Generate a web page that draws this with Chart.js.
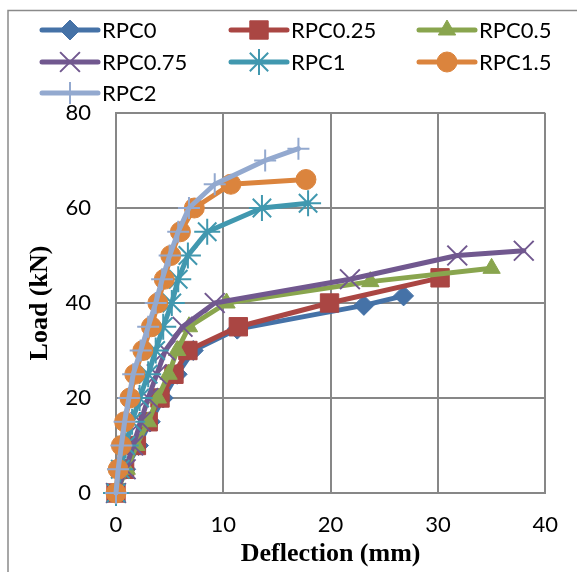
<!DOCTYPE html>
<html>
<head>
<meta charset="utf-8">
<script src="https://cdn.jsdelivr.net/npm/chart.js@4.4.1/dist/chart.umd.min.js"></script>
<style>
    html, body { margin: 0; padding: 0; background: #fff; }
    #wrap { width: 577px; height: 572px; }
</style>
</head>
<body>
<div id="wrap"><canvas id="load-chart" width="577" height="572"></canvas></div>
<script>
// series names
const NAMES = ["RPC0", "RPC0.25", "RPC0.5", "RPC0.75", "RPC1", "RPC1.5", "RPC2"];

// deflection (mm) / load (kN)
const RPC0_DEF    = [0, 0.9, 2.1, 3.2, 4.4, 5.7, 7.2, 11.3, 23.1, 26.8];
const RPC0_LOAD   = [0, 5, 10, 15, 20, 25, 30, 34.5, 39.5, 41.5];
const RPC025_DEF  = [0, 0.8, 1.9, 3.0, 4.1, 5.4, 6.7, 11.4, 19.9, 30.2];
const RPC025_LOAD = [0, 5, 10, 15, 20, 25, 30, 35, 40, 45.3];
const RPC05_DEF   = [0, 1.0, 1.9, 3.0, 3.9, 4.9, 5.7, 6.8, 10.3, 23.7, 35.0];
const RPC05_LOAD  = [0, 5, 10, 15, 20, 25, 30, 35, 40, 44.5, 47.3];
const RPC075_DEF  = [0, 0.9, 1.6, 2.3, 3.0, 3.8, 4.6, 6.2, 9.2, 21.8, 31.8, 38.0];
const RPC075_LOAD = [0, 5, 10, 15, 20, 25, 30, 35, 40, 45, 50, 51];
const RPC1_DEF    = [0, 0.4, 0.9, 1.5, 2.2, 3.0, 3.7, 4.4, 5.2, 5.8, 6.7, 8.5, 13.6, 17.9];
const RPC1_LOAD   = [0, 5, 10, 15, 20, 25, 30, 35, 40, 45, 50, 55, 60, 61];
const RPC15_DEF   = [0, 0.2, 0.5, 0.8, 1.3, 1.75, 2.5, 3.3, 3.9, 4.5, 5.1, 6.0, 7.3, 10.7, 17.7];
const RPC15_LOAD  = [0, 5, 10, 15, 20, 25, 30, 35, 40, 45, 50, 55, 60, 65, 66];
const RPC2_DEF    = [0, 0.2, 0.5, 0.8, 1.2, 1.6, 2.3, 3.0, 3.7, 4.3, 5.0, 5.8, 6.8, 9.2, 13.9, 17.0];
const RPC2_LOAD   = [0, 5, 10, 15, 20, 25, 30, 35, 40, 45, 50, 55, 60, 65, 70, 72.5];

const X_TICKS = [0, 10, 20, 30, 40];
const Y_TICKS = [0, 20, 40, 60, 80];

const DEFS  = [RPC0_DEF, RPC025_DEF, RPC05_DEF, RPC075_DEF, RPC1_DEF, RPC15_DEF, RPC2_DEF];
const LOADS = [RPC0_LOAD, RPC025_LOAD, RPC05_LOAD, RPC075_LOAD, RPC1_LOAD, RPC15_LOAD, RPC2_LOAD];

// styles
const COLORS = ["#4572A7", "#AA4643", "#89A54E", "#71588F", "#4198AF", "#DB843D", "#93A9CF"];
const MARKERS = ["rectRot", "rect", "triangle", "crossRot", "star", "circle", "cross"];
const RADIUS  = [10, 13, 10, 14, 13, 10, 11];
const MBORDER = [1, 1, 1, 2, 2, 1, 2];

const LEGEND_X = [42, 231, 419];
const LEGEND_Y = [30, 62, 93];
const FONT = "Lato";

// 凡例と外枠
const legendPlugin = {
    id: 'excelLegend',
    afterDraw(chart) {
        const ctx = chart.ctx;
        ctx.save();
        ctx.strokeStyle = "#8a8a8a";
        ctx.lineWidth = 1.5;
        ctx.beginPath();
        ctx.moveTo(8, 572);
        ctx.lineTo(8, 10.5);
        ctx.lineTo(577, 10.5);
        ctx.stroke();

        chart.data.datasets.forEach((ds, i) => {
            const x0 = LEGEND_X[i % 3];
            const y  = LEGEND_Y[Math.floor(i / 3)];
            ctx.strokeStyle = ds.borderColor;
            ctx.fillStyle = ds.borderColor;
            ctx.lineWidth = 5;
            ctx.lineCap = 'round';
            ctx.beginPath();
            ctx.moveTo(x0, y);
            ctx.lineTo(x0 + 56, y);
            ctx.stroke();
            ctx.lineCap = 'butt';
            ctx.lineWidth = ds.pointBorderWidth;
            Chart.helpers.drawPoint(ctx, {
                pointStyle: ds.pointStyle,
                radius: ds.pointRadius,
                rotation: 0,
                borderWidth: ds.pointBorderWidth
            }, x0 + 28, y);
            ctx.fillStyle = "#000";
            ctx.font = `22px ${FONT}`;
            ctx.textBaseline = 'middle';
            ctx.textAlign = 'left';
            ctx.fillText(ds.label, x0 + 60, y + 1);
        });
        ctx.restore();
    }
};

const datasets = NAMES.map((name, i) => ({
    label: name,
    data: DEFS[i].map((d, j) => ({ x: d, y: LOADS[i][j] })),
    showLine: true,
    borderColor: COLORS[i],
    backgroundColor: COLORS[i],
    borderWidth: 5,
    borderCapStyle: 'round',
    borderJoinStyle: 'round',
    pointStyle: MARKERS[i],
    pointRadius: RADIUS[i],
    pointHoverRadius: RADIUS[i],
    pointBorderWidth: MBORDER[i],
    pointBorderColor: COLORS[i],
    pointBackgroundColor: COLORS[i],
    clip: false,
    order: 10 - i,
}));

const config = {
    type: 'scatter',
    data: { datasets: datasets },
    options: {
        responsive: false,
        animation: false,
        layout: { padding: { left: 0, top: 113, right: 27, bottom: 0 } },
        plugins: {
            legend: { display: false },
            tooltip: { enabled: false },
        },
        scales: {
            x: {
                type: 'linear',
                min: 0,
                max: 40,
                afterBuildTicks: (s) => { s.ticks = X_TICKS.map(v => ({ value: v })); },
                afterFit: (s) => { s.height = 79; },
                grid: { color: "#878787", lineWidth: 2, drawTicks: false },
                border: { color: "#878787", width: 2 },
                ticks: { color: "#000", font: { family: FONT, size: 22 }, padding: 19 },
                title: {
                    display: true,
                    text: "Deflection (mm)",
                    color: "#000",
                    font: { family: "Liberation Serif", size: 26, weight: 'bold' },
                    padding: { top: 0, bottom: 2 },
                },
            },
            y: {
                type: 'linear',
                min: 0,
                max: 80,
                afterBuildTicks: (s) => { s.ticks = Y_TICKS.map(v => ({ value: v })); },
                afterFit: (s) => { s.width = 116; },
                grid: { color: "#878787", lineWidth: 2, drawTicks: false },
                border: { color: "#878787", width: 2 },
                ticks: { color: "#000", font: { family: FONT, size: 22 }, padding: 25 },
                title: {
                    display: true,
                    text: "Load (kN)",
                    color: "#000",
                    font: { family: "Liberation Serif", size: 26, weight: 'bold' },
                    padding: { top: 25, bottom: 0 },
                },
            },
        },
    },
    plugins: [legendPlugin],
};

// 描画処理
const myChart = new Chart(document.getElementById("load-chart"), config);
</script>
</body>
</html>
